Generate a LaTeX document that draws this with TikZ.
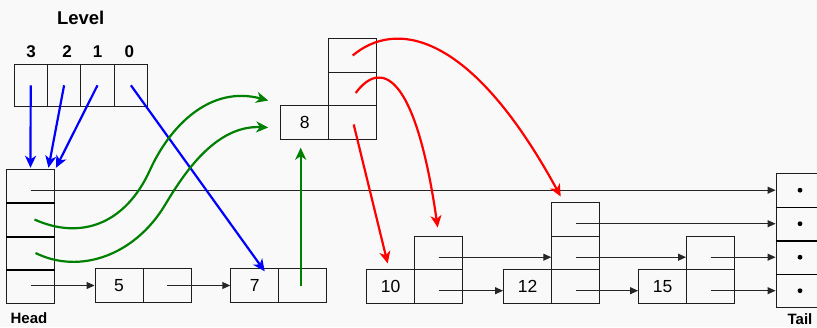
\documentclass[tikz,border=0pt]{standalone}
\usepackage{fontspec}
\setmainfont{Liberation Sans}
\usetikzlibrary{arrows.meta,calc}
\definecolor{bg}{RGB}{249,249,249}
\definecolor{dgreen}{RGB}{0,128,0}
\definecolor{boxline}{RGB}{30,30,30}
\begin{document}
\begin{tikzpicture}[x=1pt,y=-1pt,
  cell/.style={draw=boxline, line width=0.9pt, minimum width=48pt, minimum height=33.5pt,
    inner sep=0pt, font=\fontsize{17.5}{17.5}\selectfont},
  lcell/.style={cell, minimum width=33.4pt, minimum height=42.7pt},
  sep/.style={draw=black, line width=1.8pt},
  lbl/.style={font=\bfseries\fontsize{17}{17}\selectfont, inner sep=0pt},
  ptr/.style={draw=black!85, line width=1pt, -{Triangle[length=8pt,width=7pt]}},
  bluearr/.style={draw=blue, line width=2.2pt, -{Stealth[length=12pt,width=11pt,inset=3.5pt]}},
  greenarr/.style={draw=dgreen, line width=2.2pt, -{Stealth[length=12pt,width=11pt,inset=3.5pt]}},
  redarr/.style={draw=red, line width=2.2pt, -{Stealth[length=12pt,width=11pt,inset=3.5pt]}},
]
\useasboundingbox[fill=bg] (0,0) rectangle (817,327);

% level header
\node[lbl, font=\bfseries\fontsize{18.5}{18.5}\selectfont] (lvl) at (80.7,18) {Level};
\node[lbl] (n3) at (31,51.7) {3};
\node[lbl] (n2) at (67,51.7) {2};
\node[lbl] (n1) at (97.7,51.7) {1};
\node[lbl] (n0) at (129.3,51.7) {0};
\node[lcell] (L3) at (30.7,85.3) {};
\node[lcell] (L2) at (64.1,85.3) {};
\node[lcell] (L1) at (97.5,85.3) {};
\node[lcell] (L0) at (130.9,85.3) {};

% head
\node[cell] (H3) at (30.5,186) {};
\node[cell] (H2) at (30.5,219.5) {};
\node[cell] (H1) at (30.5,253) {};
\node[cell] (H0) at (30.5,286.5) {};
\draw[sep] (H3.south west) -- (H3.south east);
\draw[sep] (H2.south west) -- (H2.south east);
\draw[sep] (H1.south west) -- (H1.south east);
\node[lbl, font=\bfseries\fontsize{15}{15}\selectfont] (headlbl) at (29,318) {Head};

% tail
\node[cell] (T3) at (800,190.2) {};
\node[cell] (T2) at (800,223.7) {};
\node[cell] (T1) at (800,257.2) {};
\node[cell] (T0) at (800,290.7) {};
\draw[sep] (T3.south west) -- (T3.south east);
\draw[sep] (T2.south west) -- (T2.south east);
\draw[sep] (T1.south west) -- (T1.south east);
\foreach \t in {T3,T2,T1,T0} \fill (\t.center) circle[radius=2.4];
\node[lbl, font=\bfseries\fontsize{15}{15}\selectfont] (taillbl) at (800,319.5) {Tail};

% node 5
\node[cell] (N5k) at (119,285.5) {5};
\node[cell] (N5p) at (167,285.5) {};
% node 7
\node[cell] (N7k) at (254.7,285.5) {7};
\node[cell] (N7p) at (302.7,285.5) {};
% node 8
\node[cell] (N8k) at (304.7,122.5) {8};
\node[cell] (N8c0) at (352.7,122.5) {};
\node[cell] (N8c1) at (352.7,89) {};
\node[cell] (N8c2) at (352.7,55.5) {};
% node 10
\node[cell] (N10k) at (390.7,286.2) {10};
\node[cell] (N10c0) at (438.7,286.2) {};
\node[cell] (N10c1) at (438.7,252.7) {};
% node 12
\node[cell] (N12k) at (527.5,286.2) {12};
\node[cell] (N12c0) at (575.7,286.2) {};
\node[cell] (N12c1) at (575.7,252.7) {};
\node[cell] (N12c2) at (575.7,219.2) {};
% node 15
\node[cell] (N15k) at (662.5,286.2) {15};
\node[cell] (N15c0) at (710.5,286.2) {};
\node[cell] (N15c1) at (710.5,252.7) {};

% black pointers
\draw[ptr] (T3.west -| H3.center) -- (T3.west);
\draw[ptr] (N5k.west -| H0.center) -- (N5k.west);
\draw[ptr] (N5p.center) -- (N7k.west);
\draw[ptr] (T1.west -| N10c1.center) -- (T1.west -| N12c1.west);
\draw[ptr] (T0.west -| N10c0.center) -- (T0.west -| N12k.west);
\draw[ptr] (T2.west -| N12c2.center) -- (T2.west);
\draw[ptr] (T1.west -| N12c1.center) -- (T1.west -| N15c1.west);
\draw[ptr] (T0.west -| N12c0.center) -- (T0.west -| N15k.west);
\draw[ptr] (T1.west -| N15c1.center) -- (T1.west);
\draw[ptr] (T0.west -| N15c0.center) -- (T0.west);

% blue
\draw[bluearr] (L3.center) -- ($(H3.north)+(0,-1)$);
\draw[bluearr] (L2.center) -- ($(H3.north)+(18,-1)$);
\draw[bluearr] (L1.center) -- ($(H3.north east)+(1,-1)$);
\draw[bluearr] (L0.center) -- ($(N7k.north)+(10,3)$);

% green
\draw[greenarr] ($(H2.center)+(4,0)$) .. controls (80,240) and (125,225) .. (150,170)
   .. controls (170,126) and (210,85) .. ($(N8k.west)+(-12,-22)$);
\draw[greenarr] ($(H1.center)+(5,0)$) .. controls (80,275) and (135,255) .. (165,205)
   .. controls (183,175) and (215,125) .. ($(N8k.west)+(-12,5)$);
\draw[greenarr] ($(N7p.center)+(-2,0)$) -- ($(N8k.south)+(-4,8)$);

% red
\draw[redarr] (N8c2.center) .. controls (395,20) and (470,30) .. ($(N12c2.north)+(-15,-5.5)$);
\draw[redarr] ($(N8c1.center)+(3,4)$) .. controls (380,60) and (415,70) .. ($(N10c1.north)+(-1,-8)$);
\draw[redarr] ($(N8c0.center)+(1,2)$) -- ($(N10k.north)+(-3,-5.5)$);
\end{tikzpicture}
\end{document}
